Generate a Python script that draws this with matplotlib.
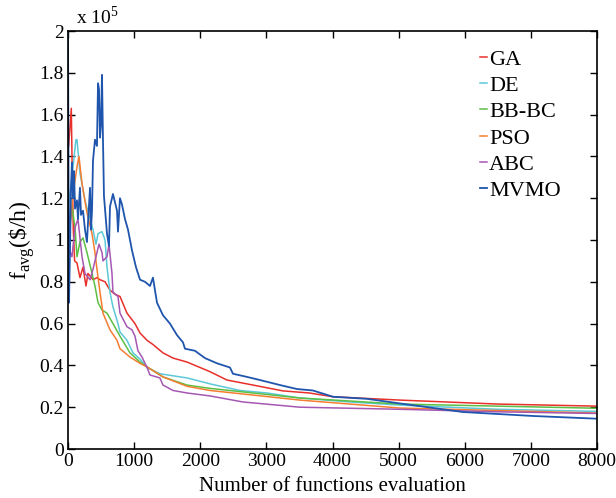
import matplotlib
matplotlib.use("Agg")
import matplotlib.pyplot as plt

# values in units of 1e5 $/h
ga_x = [10, 50, 65, 80, 100, 136, 181, 227, 272, 302, 378, 438, 484, 560, 635, 711, 786, 892, 1013, 1089, 1195, 1285, 1436, 1588, 1800, 2147, 2404, 2797, 3250, 3650, 4007, 5020, 6500, 8000]
ga_y = [1.45, 1.63, 1.30, 1.05, 0.90, 0.89, 0.82, 0.87, 0.78, 0.84, 0.81, 0.82, 0.81, 0.80, 0.76, 0.74, 0.73, 0.65, 0.60, 0.555, 0.52, 0.50, 0.46, 0.435, 0.416, 0.37, 0.33, 0.306, 0.278, 0.268, 0.25, 0.234, 0.215, 0.205]

de_x = [0, 60, 120, 136, 181, 257, 333, 378, 423, 454, 514, 560, 590, 635, 680, 756, 786, 892, 983, 1089, 1195, 1390, 1800, 2170, 2600, 3009, 3508, 4264, 5020, 6500, 8000]
de_y = [1.15, 1.30, 1.48, 1.48, 1.32, 1.19, 1.10, 1.05, 0.98, 1.03, 1.04, 1.00, 0.87, 0.75, 0.68, 0.60, 0.56, 0.52, 0.46, 0.43, 0.39, 0.36, 0.34, 0.31, 0.28, 0.268, 0.244, 0.225, 0.21, 0.19, 0.18]

bb_x = [0, 60, 106, 136, 181, 227, 287, 363, 408, 454, 514, 590, 680, 786, 937, 1089, 1210, 1436, 1800, 2147, 3508, 5020, 8000]
bb_y = [1.00, 1.16, 1.06, 0.92, 0.99, 1.01, 0.94, 0.84, 0.78, 0.70, 0.665, 0.65, 0.60, 0.54, 0.46, 0.416, 0.39, 0.345, 0.306, 0.29, 0.244, 0.215, 0.195]

pso_x = [0, 30, 76, 136, 166, 212, 287, 363, 408, 438, 484, 529, 635, 741, 786, 937, 1089, 1210, 1436, 1800, 2147, 3508, 5020, 8000]
pso_y = [1.12, 1.06, 1.22, 1.35, 1.40, 1.27, 1.13, 1.03, 0.94, 0.86, 0.75, 0.65, 0.57, 0.52, 0.48, 0.44, 0.41, 0.39, 0.345, 0.30, 0.28, 0.234, 0.196, 0.172]

abc_x = [0, 60, 106, 151, 181, 212, 257, 333, 378, 438, 469, 514, 529, 590, 620, 665, 680, 756, 786, 892, 968, 1013, 1058, 1119, 1195, 1240, 1390, 1436, 1588, 1800, 2147, 2646, 3508, 5020, 6500, 8000]
abc_y = [0.97, 0.92, 1.06, 1.10, 1.01, 0.92, 0.84, 0.81, 0.86, 0.94, 0.98, 0.94, 0.90, 0.92, 0.98, 0.84, 0.75, 0.73, 0.65, 0.585, 0.57, 0.54, 0.47, 0.44, 0.39, 0.354, 0.34, 0.306, 0.28, 0.268, 0.254, 0.225, 0.20, 0.19, 0.178, 0.17]

mv_x = [0, 15, 30, 45, 60, 76, 91, 106, 136, 151, 181, 197, 227, 257, 287, 302, 333, 348, 363, 378, 408, 438, 454, 469, 484, 499, 514, 529, 544, 590, 620, 635, 680, 711, 741, 756, 786, 816, 862, 907, 968, 1028, 1089, 1164, 1240, 1285, 1315, 1346, 1436, 1542, 1648, 1739, 1769, 1920, 2071, 2253, 2449, 2495, 2706, 2903, 3205, 3462, 3704, 4007, 4521, 5020, 5972, 7031, 8000]
mv_y = [2.0, 0.70, 0.95, 1.25, 1.37, 1.20, 1.33, 1.15, 1.19, 1.10, 1.25, 1.12, 1.14, 1.05, 0.99, 1.08, 1.25, 1.05, 1.14, 1.38, 1.48, 1.45, 1.75, 1.72, 1.49, 1.55, 1.79, 1.48, 1.21, 1.03, 0.97, 1.16, 1.22, 1.18, 1.14, 1.04, 1.20, 1.17, 1.10, 1.05, 0.95, 0.87, 0.81, 0.80, 0.78, 0.82, 0.76, 0.70, 0.64, 0.60, 0.545, 0.51, 0.48, 0.47, 0.435, 0.41, 0.39, 0.36, 0.345, 0.33, 0.306, 0.287, 0.28, 0.25, 0.24, 0.218, 0.177, 0.158, 0.145]

labels = ["GA", "DE", "BB-BC", "PSO", "ABC", "MVMO"]
colors = ["#e8302a", "#5cc8d8", "#5cbf45", "#f57d32", "#a557b3", "#1f55ad"]
xticks = [0, 1000, 2000, 3000, 4000, 5000, 6000, 7000, 8000]
yticks = [0, 0.2, 0.4, 0.6, 0.8, 1.0, 1.2, 1.4, 1.6, 1.8, 2.0]
ytick_labels = ["0", "0.2", "0.4", "0.6", "0.8", "1", "1.2", "1.4", "1.6", "1.8", "2"]

plt.rcParams["font.family"] = ["Liberation Serif", "DejaVu Serif"]
plt.rcParams["mathtext.fontset"] = "custom"
plt.rcParams["mathtext.rm"] = "Liberation Serif"

fig = plt.figure(figsize=(6.16, 4.98), dpi=100)
ax = fig.add_axes([68/616, 49/498, 529/616, 418/498])

series = [(ga_x, ga_y), (de_x, de_y), (bb_x, bb_y), (pso_x, pso_y), (abc_x, abc_y), (mv_x, mv_y)]
for (xs, ys), lab, c in zip(series, labels, colors):
    lw = 1.3 if lab == "MVMO" else 1.1
    ax.plot(xs, ys, color=c, lw=lw, label=lab)

ax.set_xlim(0, 8000)
ax.set_ylim(0, 2)
ax.set_xticks(xticks)
ax.set_yticks(yticks)
ax.set_yticklabels(ytick_labels)
ax.tick_params(direction="in", top=True, right=True, labelsize=14, length=5, width=1, pad=3)
for s in ax.spines.values():
    s.set_linewidth(1.2)

ax.set_xlabel("Number of functions evaluation", fontsize=15, labelpad=5)
ax.set_ylabel(r"f$_{\mathrm{avg}}$(\$/h)", fontsize=17, labelpad=2)
ax.text(0.016, 1.008, r"x 10$^5$", transform=ax.transAxes, fontsize=14, va="bottom", ha="left")

leg = ax.legend(loc="upper left", frameon=False, fontsize=16, handlelength=0.3,
                handletextpad=0.1, labelspacing=0.26, borderpad=0, borderaxespad=0,
                bbox_to_anchor=(0.779, 0.957))

fig.savefig("out.png", dpi=100)
